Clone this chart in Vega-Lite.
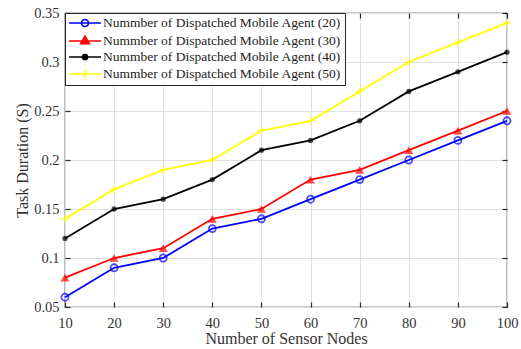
{
  "$schema": "https://vega.github.io/schema/vega-lite/v6.json",
  "autosize": {"type": "none"},
  "padding": {"left": 65, "top": 13, "right": 14, "bottom": 42},
  "width": 442,
  "height": 294,
  "background": "white",
  "config": {
    "font": "Liberation Serif",
    "view": {"stroke": "#262626", "strokeWidth": 1.2},
    "axis": {
      "labelFont": "Liberation Serif",
      "titleFont": "Liberation Serif",
      "labelFontSize": 14.5,
      "titleFontSize": 16,
      "labelColor": "#333333",
      "titleColor": "#333333",
      "titleFontWeight": "normal",
      "gridColor": "#e0e0e0",
      "gridWidth": 1,
      "domain": false,
      "tickColor": "#262626",
      "tickWidth": 1.2,
      "tickSize": -5,
      "labelFlush": false
    }
  },
  "resolve": {"axis": {"x": "independent", "y": "independent"}},
  "data": {
    "values": [
      {"n": 10, "s": "Nummber of Dispatched Mobile Agent (20)", "t": 0.06},
      {"n": 20, "s": "Nummber of Dispatched Mobile Agent (20)", "t": 0.09},
      {"n": 30, "s": "Nummber of Dispatched Mobile Agent (20)", "t": 0.10},
      {"n": 40, "s": "Nummber of Dispatched Mobile Agent (20)", "t": 0.13},
      {"n": 50, "s": "Nummber of Dispatched Mobile Agent (20)", "t": 0.14},
      {"n": 60, "s": "Nummber of Dispatched Mobile Agent (20)", "t": 0.16},
      {"n": 70, "s": "Nummber of Dispatched Mobile Agent (20)", "t": 0.18},
      {"n": 80, "s": "Nummber of Dispatched Mobile Agent (20)", "t": 0.20},
      {"n": 90, "s": "Nummber of Dispatched Mobile Agent (20)", "t": 0.22},
      {"n": 100, "s": "Nummber of Dispatched Mobile Agent (20)", "t": 0.24},
      {"n": 10, "s": "Nummber of Dispatched Mobile Agent (30)", "t": 0.08},
      {"n": 20, "s": "Nummber of Dispatched Mobile Agent (30)", "t": 0.10},
      {"n": 30, "s": "Nummber of Dispatched Mobile Agent (30)", "t": 0.11},
      {"n": 40, "s": "Nummber of Dispatched Mobile Agent (30)", "t": 0.14},
      {"n": 50, "s": "Nummber of Dispatched Mobile Agent (30)", "t": 0.15},
      {"n": 60, "s": "Nummber of Dispatched Mobile Agent (30)", "t": 0.18},
      {"n": 70, "s": "Nummber of Dispatched Mobile Agent (30)", "t": 0.19},
      {"n": 80, "s": "Nummber of Dispatched Mobile Agent (30)", "t": 0.21},
      {"n": 90, "s": "Nummber of Dispatched Mobile Agent (30)", "t": 0.23},
      {"n": 100, "s": "Nummber of Dispatched Mobile Agent (30)", "t": 0.25},
      {"n": 10, "s": "Nummber of Dispatched Mobile Agent (40)", "t": 0.12},
      {"n": 20, "s": "Nummber of Dispatched Mobile Agent (40)", "t": 0.15},
      {"n": 30, "s": "Nummber of Dispatched Mobile Agent (40)", "t": 0.16},
      {"n": 40, "s": "Nummber of Dispatched Mobile Agent (40)", "t": 0.18},
      {"n": 50, "s": "Nummber of Dispatched Mobile Agent (40)", "t": 0.21},
      {"n": 60, "s": "Nummber of Dispatched Mobile Agent (40)", "t": 0.22},
      {"n": 70, "s": "Nummber of Dispatched Mobile Agent (40)", "t": 0.24},
      {"n": 80, "s": "Nummber of Dispatched Mobile Agent (40)", "t": 0.27},
      {"n": 90, "s": "Nummber of Dispatched Mobile Agent (40)", "t": 0.29},
      {"n": 100, "s": "Nummber of Dispatched Mobile Agent (40)", "t": 0.31},
      {"n": 10, "s": "Nummber of Dispatched Mobile Agent (50)", "t": 0.14},
      {"n": 20, "s": "Nummber of Dispatched Mobile Agent (50)", "t": 0.17},
      {"n": 30, "s": "Nummber of Dispatched Mobile Agent (50)", "t": 0.19},
      {"n": 40, "s": "Nummber of Dispatched Mobile Agent (50)", "t": 0.20},
      {"n": 50, "s": "Nummber of Dispatched Mobile Agent (50)", "t": 0.23},
      {"n": 60, "s": "Nummber of Dispatched Mobile Agent (50)", "t": 0.24},
      {"n": 70, "s": "Nummber of Dispatched Mobile Agent (50)", "t": 0.27},
      {"n": 80, "s": "Nummber of Dispatched Mobile Agent (50)", "t": 0.30},
      {"n": 90, "s": "Nummber of Dispatched Mobile Agent (50)", "t": 0.32},
      {"n": 100, "s": "Nummber of Dispatched Mobile Agent (50)", "t": 0.34}
    ]
  },
  "layer": [
    {
      "mark": {"type": "line", "strokeWidth": 1.8},
      "encoding": {
        "x": {
          "field": "n", "type": "quantitative",
          "scale": {"domain": [10, 100], "nice": false, "zero": false},
          "axis": {"orient": "bottom", "values": [10, 20, 30, 40, 50, 60, 70, 80, 90, 100], "title": "Number of Sensor Nodes", "titlePadding": 1, "labelPadding": 14}
        },
        "y": {
          "field": "t", "type": "quantitative",
          "scale": {"domain": [0.05, 0.35], "nice": false, "zero": false},
          "axis": {"orient": "left", "values": [0.05, 0.1, 0.15, 0.2, 0.25, 0.3, 0.35], "format": ".2~f", "title": "Task Duration (S)", "titlePadding": 3, "labelPadding": 11}
        },
        "color": {
          "field": "s", "type": "nominal",
          "scale": {
            "domain": ["Nummber of Dispatched Mobile Agent (20)", "Nummber of Dispatched Mobile Agent (30)", "Nummber of Dispatched Mobile Agent (40)", "Nummber of Dispatched Mobile Agent (50)"],
            "range": ["#0000ff", "#ff0000", "#000000", "#ffff00"]
          },
          "legend": {
            "title": null,
            "orient": "none",
            "legendX": 0,
            "legendY": 0,
            "direction": "vertical",
            "strokeColor": "#262626",
            "fillColor": "white",
            "padding": 3,
            "rowPadding": 2,
            "symbolSize": 144,
            "symbolOffset": 10,
            "symbolStrokeWidth": 1.7,
            "labelFont": "Liberation Serif",
            "labelFontSize": 13.5,
            "labelColor": "#222222",
            "labelOffset": 11,
            "labelLimit": 400,
            "encode": {
              "symbols": {
                "update": {
                  "shape": {"signal": "indexof(datum.value,'(20)')>=0 ? 'M-2.67,0H2.67M-0.58,0A0.58,0.58 0 1,1 0.58,0A0.58,0.58 0 1,1 -0.58,0Z' : indexof(datum.value,'(30)')>=0 ? 'M-2.67,0H2.67M0,-0.8L0.72,0.46L-0.72,0.46Z' : indexof(datum.value,'(40)')>=0 ? 'M-2.67,0H2.67M-0.42,0A0.42,0.42 0 1,1 0.42,0A0.42,0.42 0 1,1 -0.42,0Z' : 'M-2.67,0H2.67M0,-0.67V0.67'"},
                  "fill": {"signal": "indexof(datum.value,'(20)')>=0 ? 'transparent' : scale('color', datum.value)"}
                }
              }
            }
          }
        }
      }
    },
    {
      "transform": [{"filter": "indexof(datum.s,'(20)')>=0"}],
      "mark": {"type": "point", "shape": "circle", "filled": false, "color": "#0000ff", "size": 50, "strokeWidth": 1.8},
      "encoding": {
        "x": {"field": "n", "type": "quantitative", "axis": null},
        "y": {"field": "t", "type": "quantitative", "axis": null}
      }
    },
    {
      "transform": [{"filter": "indexof(datum.s,'(30)')>=0"}],
      "mark": {"type": "point", "shape": "triangle-up", "filled": true, "color": "#ff0000", "size": 80},
      "encoding": {
        "x": {"field": "n", "type": "quantitative", "axis": null},
        "y": {"field": "t", "type": "quantitative", "axis": null}
      }
    },
    {
      "transform": [{"filter": "indexof(datum.s,'(40)')>=0"}],
      "mark": {"type": "point", "shape": "circle", "filled": true, "color": "#000000", "size": 28},
      "encoding": {
        "x": {"field": "n", "type": "quantitative", "axis": null},
        "y": {"field": "t", "type": "quantitative", "axis": null}
      }
    },
    {
      "transform": [{"filter": "indexof(datum.s,'(50)')>=0"}],
      "mark": {"type": "point", "shape": "M-1,0H1M0,-1V1", "filled": false, "color": "#ffff00", "size": 56, "strokeWidth": 1.6},
      "encoding": {
        "x": {"field": "n", "type": "quantitative", "axis": {"orient": "top", "values": [10, 20, 30, 40, 50, 60, 70, 80, 90, 100], "labels": false, "title": null, "grid": false}},
        "y": {"field": "t", "type": "quantitative", "axis": {"orient": "right", "values": [0.05, 0.1, 0.15, 0.2, 0.25, 0.3, 0.35], "labels": false, "title": null, "grid": false}}
      }
    }
  ]
}
